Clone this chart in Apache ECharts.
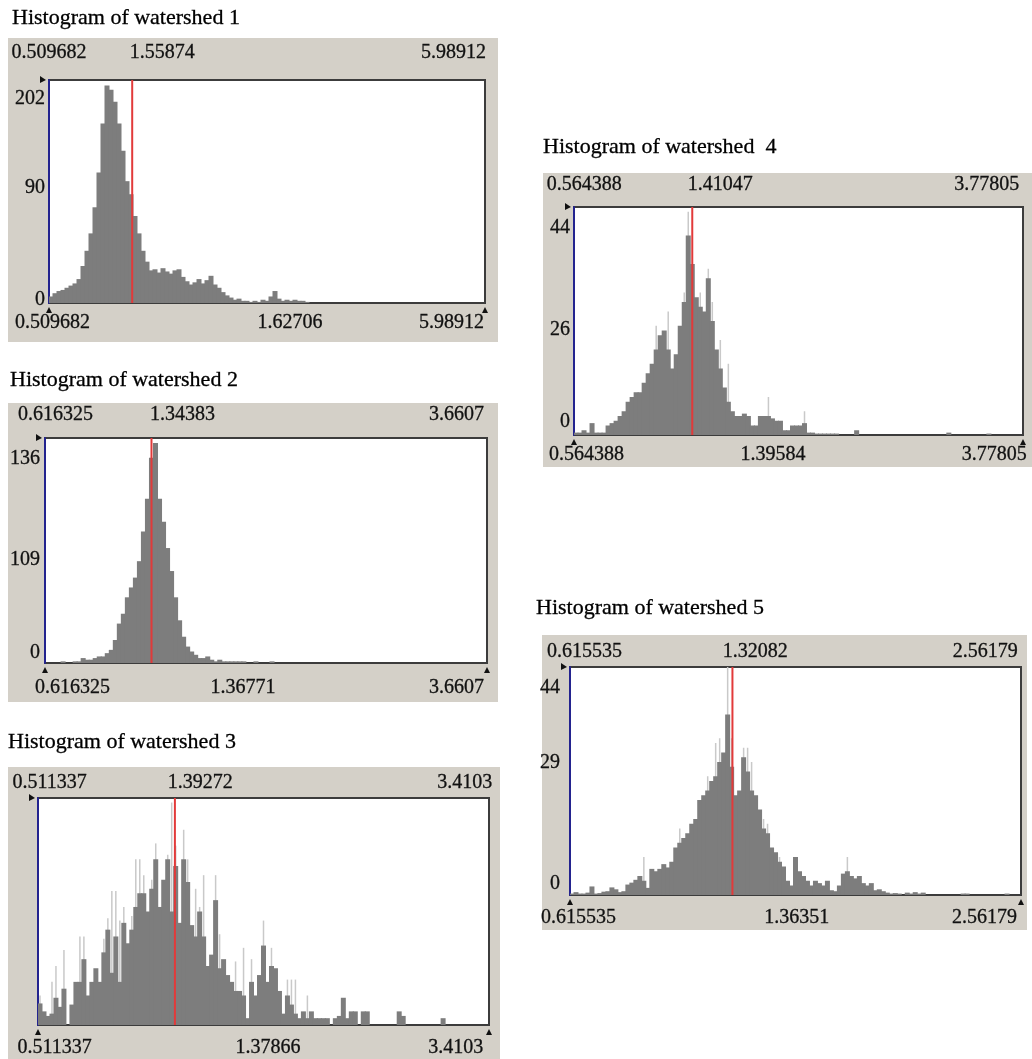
<!DOCTYPE html>
<html>
<head>
<meta charset="utf-8">
<script src="https://cdn.jsdelivr.net/npm/echarts@6/dist/echarts.min.js"></script>
<style>
  html, body { margin: 0; padding: 0; background: #fff; }
  #main { width: 1032px; height: 1059px; }
</style>
</head>
<body>
<div id="main"></div>
<script>
// titles
var titles = ['Histogram of watershed 1', 'Histogram of watershed 2', 'Histogram of watershed 3',
              'Histogram of watershed  4', 'Histogram of watershed 5'];

// bin counts (one bar = one bin)
var bins1 = [6,9,11,12,14,16,18,22,34,48, 64,88,120,165,200,196,185,165,140,112,
             100,80,64,48,38,30,31,28,32,29, 27,30,31,24,20,17,19,22,18,21,
             25,17,14,10,7,5,3,4,2,2, 1,2,1,3,2,6,11,4,2,3,
             2,3,2,2,1,0,0,0,0,0, 0,0,0,0,0,0,0,0,0,0,
             0,0,0,0,0,0,0,0,0,0, 0,0,0,0,0,0,0,0,0,0,
             0,0,0,0,0,0,0,0,0];
var bins2 = [0,0,0,0,1,0,0,1,1,3, 2,2,3,4,4,6,8,14,24,30,
             40,46,52,62,80,100,125,134,100,86, 70,56,40,26,16,10,7,5,3,3,
             4,2,1,2,1,1,1,1,1,1, 0,0,1,0,0,0,1,0,0,0,
             0,0,0,0,0,0,0,0,0,0, 0,0,0,0,0,0,0,0,0,0,
             0,0,0,0,0,0,0,0,0,0, 0,0,0,0,0,0,0,0,0,0,
             0,0,0,0,0,0,0,0,0,0];
var bins3 = [9.5,6,4,5,12,8,16,0,9,19, 19,29,13,19,25,19,32,42,23,39,
             19,45,36,42,52,58,58,50,60,73, 52,64,73,50,70,45,73,63,44,39,
             50,39,26,31,55,25,29,22,19,15, 15,13,3,19,13,22,35,19,26,25,
             15,5,13,9,5,3,6,3,6,3, 3,3,3,0,3,4,12,3,6,6,
             0,6,6,0,0,0,0,0,0,0, 6,4,0,0,0,0,0,0,0,0,
             0,3,0,0,0,0,0,0,0,0, 0,0,0];
var bins4 = [0.5,0.5,1,0.5,2.5,0.5,0.5,0.5,2,2.5, 3,4,5,7,8,9,9,11,13,15,
             18,21,22,18,14,17,23,28,42,36, 29,27,26,33,24,18,14,10,7,5,
             4,4,4.5,4,2,2,4,4,4,3.5, 3,3,1,1,2,2,2,2.5,0.5,0.5,
             0.3,0.3,0.3,0.3,0.3,0.3,0,0,0,0, 1,0,0,0,0,0,0,0,0,0,
             0,0,0,0,0,0,0,0,0,0, 0,0,0,0.5,0,0,0,0,0,0,
             0,0,0,0.3,0,0,0,0,0,0, 0,0];
var bins5 = [0.3,0.6,0.3,0.3,0.5,1.8,0.3,0.4,0.7,0.8, 1.6,1.2,0.6,0.8,2.2,2.6,3.2,4,3,1.5,
             5.5,5,5.5,6.5,5.8,7,10,11,12,13, 15,16,20,21,22,24,25,28,30,38,
             27,21,22,29,26,22,21,18,14,13, 10,9,7,6,3,2,8,5,4,3,
             2,3,2.5,2,3,1,0.8,2,4.5,5, 4,3.5,4,2.5,2,2.5,1,1.2,0.8,0.5,
             0.3,0.4,0.3,0,0.5,0.3,0.6,0.3,0.5,0, 0,0,0,0,0,0,0,0,0.3,0.3,
             0,0,0,0,0,0,0,0,0,0.3, 0,0,0];

// faint taller spikes seen behind the dark bars: [bin, height]
var spikes1 = [];
var spikes2 = [];
var spikes3 = [[0,13],[3,19],[4,26],[6,33],[10,39],[11,39],[16,38],[17,47],[18,59],[19,59],
               [20,46],[21,52],[23,48],[24,73],[25,73],[26,66],[28,64],[29,80],[32,75],[33,98],
               [34,79],[36,86],[37,73],[39,60],[40,52],[41,66],[44,66],[45,40],[49,28],[51,34],
               [53,29],[56,46],[58,34],[62,20],[63,20],[64,20],[67,13]];
var spikes4 = [[20,23],[23,26],[27,30],[28,47],[29,36],[31,30],[33,35],[34,28],[36,20],[38,15],
               [48,8],[57,5]];
var spikes5 = [[18,8],[27,14],[34,25],[36,32],[37,33],[39,48],[40,33],[43,31],[44,31],[45,28],
               [48,16],[49,15],[52,8],[69,8]];

// mean position (in bins) where the red line stands
var meanBins = [20.8, 26.5, 34.3, 29.5, 40.7];

// tick labels
var topLabels = [['0.509682','1.55874','5.98912'], ['0.616325','1.34383','3.6607'],
                 ['0.511337','1.39272','3.4103'], ['0.564388','1.41047','3.77805'],
                 ['0.615535','1.32082','2.56179']];
var bottomLabels = [['0.509682','1.62706','5.98912'], ['0.616325','1.36771','3.6607'],
                    ['0.511337','1.37866','3.4103'], ['0.564388','1.39584','3.77805'],
                    ['0.615535','1.36351','2.56179']];
var yLabels = [['0','90','202'], ['0','109','136'], [], ['0','26','44'], ['0','29','44']];

var allBins = [bins1, bins2, bins3, bins4, bins5];
var allSpikes = [spikes1, spikes2, spikes3, spikes4, spikes5];

// layout: panel box, plot rect, title pos, axis max, label fractions / margins
var layout = [
  {box:[8,38,490,304], grid:[49,80,436,223], tp:[12,18], yMax:205,
   topF:[0.0,0.26,0.928], botF:[0.008,0.553,0.923], yF:[0.013,0.516,0.915], tM:27, bM:20, yM:4},
  {box:[8,403,490,299], grid:[45,438,442,225], tp:[10,380], yMax:137,
   topF:[0.024,0.311,0.931], botF:[0.062,0.448,0.931], yF:[0.044,0.458,0.91], tM:23, bM:25, yM:5},
  {box:[8,767,492,292], grid:[38,798,451,227], tp:[8,742], yMax:100,
   topF:[0.026,0.36,0.946], botF:[0.037,0.51,0.926], yF:[], tM:15, bM:23, yM:4},
  {box:[543,173,489,294], grid:[574,207,449,228], tp:[543,147], yMax:48,
   topF:[0.023,0.326,0.919], botF:[0.028,0.443,0.936], yF:[0.057,0.46,0.91], tM:22, bM:20, yM:4},
  {box:[542,635,485,295], grid:[570,667,451,228], tp:[536,608], yMax:48,
   topF:[0.032,0.411,0.921], botF:[0.019,0.503,0.919], yF:[0.05,0.58,0.91], tM:15, bM:23, yM:10}
];

var FONT = '"Liberation Serif", "Times New Roman", serif';
var TXT = '#111111';
var BAR = '#7d7d7d';

function pick(fr, labels) {
  return function (v) {
    var best = 0, d = 9;
    for (var k = 0; k < fr.length; k++) {
      if (Math.abs(fr[k] - v) < d) { d = Math.abs(fr[k] - v); best = k; }
    }
    return labels[best] || '';
  };
}

var grids = [], xAxes = [], yAxes = [], series = [], graphics = [];

allBins.forEach(function (bins, g) {
  var L = layout[g];
  grids.push({left: L.grid[0], top: L.grid[1], width: L.grid[2], height: L.grid[3],
    show: true, backgroundColor: '#ffffff', borderColor: '#3c3c3c', borderWidth: 2});

  graphics.push({type: 'rect', z: -10, silent: true,
    shape: {x: L.box[0], y: L.box[1], width: L.box[2], height: L.box[3]},
    style: {fill: '#d4d0c8'}});
  graphics.push({type: 'text', silent: true, x: L.tp[0], y: L.tp[1],
    style: {text: titles[g], font: '22px ' + FONT, fill: '#000', align: 'left', verticalAlign: 'middle',
      stroke: '#000', lineWidth: 0.3}});

  var lx = L.grid[0], rx = L.grid[0] + L.grid[2], ty = L.grid[1], by = L.grid[1] + L.grid[3];
  graphics.push({type: 'polygon', silent: true, shape: {points: [[lx-9,ty-4],[lx-3,ty],[lx-9,ty+3]]}, style: {fill: '#111'}});
  graphics.push({type: 'polygon', silent: true, shape: {points: [[lx-3,by+10],[lx,by+4],[lx+3,by+10]]}, style: {fill: '#111'}});
  graphics.push({type: 'polygon', silent: true, shape: {points: [[rx-3,by+10],[rx,by+4],[rx+3,by+10]]}, style: {fill: '#111'}});

  var lab = {fontFamily: FONT, fontSize: 20, color: TXT, textBorderColor: TXT, textBorderWidth: 0.3};
  var cats = bins.map(function (_, i) { return i; });
  var base = 4 * g;

  xAxes.push({type: 'category', gridIndex: g, show: false, data: cats});
  xAxes.push({type: 'value', gridIndex: g, position: 'top', min: 0, max: 1,
    axisLine: {show: false}, axisTick: {show: false}, splitLine: {show: false},
    axisLabel: Object.assign({customValues: L.topF, formatter: pick(L.topF, topLabels[g]),
      margin: L.tM, verticalAlign: 'middle'}, lab)});
  xAxes.push({type: 'value', gridIndex: g, position: 'bottom', min: 0, max: 1,
    axisLine: {show: false}, axisTick: {show: false}, splitLine: {show: false},
    axisLabel: Object.assign({customValues: L.botF, formatter: pick(L.botF, bottomLabels[g]),
      margin: L.bM, verticalAlign: 'middle'}, lab)});
  xAxes.push({type: 'category', gridIndex: g, show: false, data: cats});

  yAxes.push({type: 'value', gridIndex: g, position: 'left', min: 0, max: L.yMax,
    axisLine: {show: true, lineStyle: {color: '#23238f', width: 2}},
    axisTick: {show: false}, axisLabel: {show: false}, splitLine: {show: false}});
  yAxes.push({type: 'value', gridIndex: g, position: 'left', min: 0, max: 1,
    axisLine: {show: false}, axisTick: {show: false}, splitLine: {show: false},
    axisLabel: Object.assign({show: L.yF.length > 0, customValues: L.yF,
      formatter: pick(L.yF, yLabels[g]), margin: L.yM}, lab)});

  // faint spikes, behind
  var sp = bins.map(function () { return 0; });
  allSpikes[g].forEach(function (p) { sp[p[0]] = p[1]; });
  series.push({type: 'bar', xAxisIndex: base + 3, yAxisIndex: 2*g, data: sp, z: 1,
    barWidth: 1.5, itemStyle: {color: '#c9c9c9'}, silent: true});

  series.push({type: 'bar', xAxisIndex: base, yAxisIndex: 2*g, data: bins, z: 2,
    barWidth: '125%', itemStyle: {color: BAR}, silent: true});
  var f = meanBins[g] / bins.length;
  series.push({type: 'line', xAxisIndex: base + 1, yAxisIndex: 2*g+1, data: [[f, 0], [f, 1]],
    showSymbol: false, silent: true, lineStyle: {color: '#e23a3a', width: 2}, z: 5});
});

var chart = echarts.init(document.getElementById('main'), null, {renderer: 'canvas'});
chart.setOption({
  animation: false,
  backgroundColor: '#ffffff',
  grid: grids,
  xAxis: xAxes,
  yAxis: yAxes,
  series: series,
  graphic: {elements: graphics}
});
</script>
</body>
</html>
